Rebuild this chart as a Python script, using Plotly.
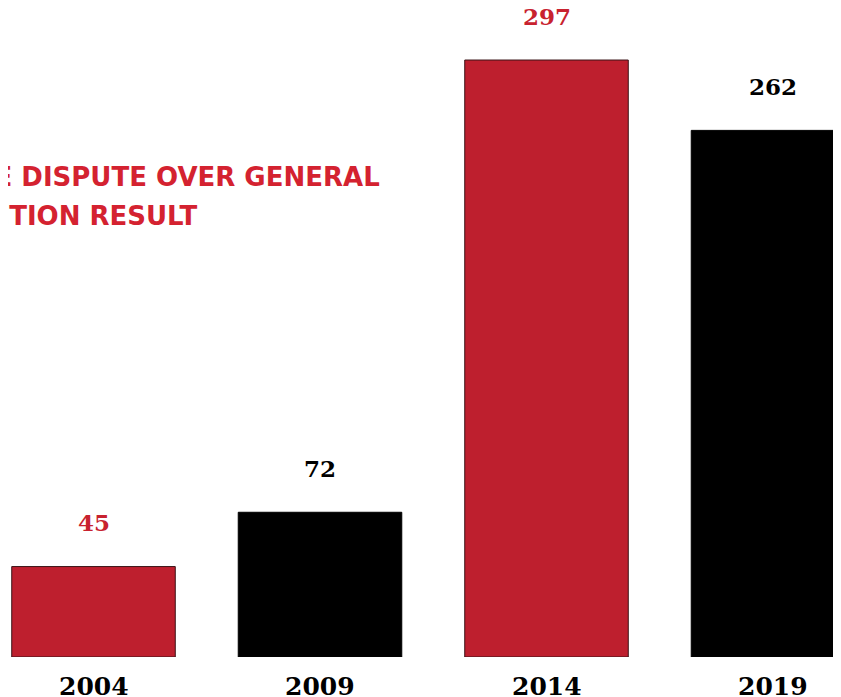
import plotly.graph_objects as go

years = ["2004", "2009", "2014", "2019"]
cases = [45, 72, 297, 262]
bar_colors = ["#BE1F2E", "#000000", "#BE1F2E", "#000000"]
label_colors = ["#C8222F", "#000000", "#C8222F", "#000000"]
title_line1 = "THE DISPUTE OVER GENERAL"
title_line2 = "ELECTION RESULT"

W, H = 841, 697
PLOT_H = 649
fig = go.Figure()
fig.add_trace(go.Bar(
    x=list(range(len(years))), y=cases,
    marker=dict(color=bar_colors,
                line=dict(color=["#3a1418", "#000000", "#3a1418", "#000000"], width=1)),
    width=0.722,
    hoverinfo="skip",
))

for i, (v, c) in enumerate(zip(cases, label_colors)):
    fig.add_annotation(x=i, y=v, text=str(v), showarrow=False,
                       yshift=44, yanchor="middle",
                       font=dict(family="DejaVu Serif", size=23, color=c, weight="bold"))

for i, yr in enumerate(years):
    fig.add_annotation(x=i, y=0, text=yr, showarrow=False,
                       yshift=-29, yanchor="middle",
                       font=dict(family="DejaVu Serif", size=25, color="#000000", weight="bold"))

fig.add_annotation(xref="paper", yref="paper", x=374 / W, y=1 - 169 / PLOT_H,
                   xanchor="right", yanchor="middle", text=title_line1, showarrow=False,
                   font=dict(family="DejaVu Sans", size=26, color="#D42230", weight="bold"))
fig.add_annotation(xref="paper", yref="paper", x=191 / W, y=1 - 208 / PLOT_H,
                   xanchor="right", yanchor="middle", text=title_line2, showarrow=False,
                   font=dict(family="DejaVu Sans", size=26, color="#D42230", weight="bold"))

fig.update_layout(
    width=W, height=H,
    margin=dict(l=0, r=0, t=0, b=H - PLOT_H, autoexpand=False),
    paper_bgcolor="white", plot_bgcolor="white",
    showlegend=False,
    xaxis=dict(range=[-0.3775, 3.3355], showticklabels=False,
               showgrid=False, zeroline=False, showline=False, ticks=""),
    yaxis=dict(range=[0, PLOT_H / 2.01], visible=False, showgrid=False, zeroline=False),
)

fig.write_html("out.html")
